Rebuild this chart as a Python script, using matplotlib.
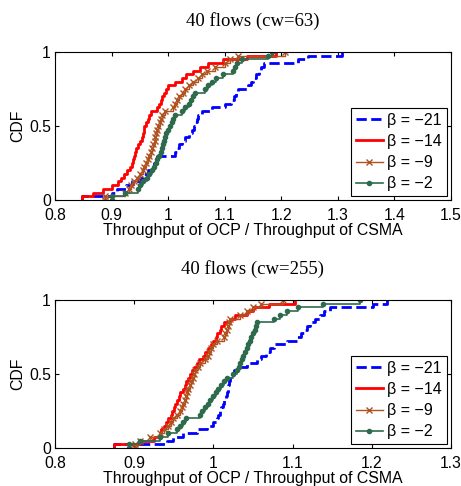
import numpy as np
import matplotlib
matplotlib.use('Agg')
import matplotlib.pyplot as plt
from matplotlib.ticker import FormatStrFormatter

plt.rcParams['font.family'] = ['Liberation Sans', 'DejaVu Sans']

# sorted per-flow throughput ratios (OCP / CSMA), 40 flows each
# cw = 63
top_b21 = [0.847, 0.900, 0.910, 0.925, 0.936, 0.950, 0.955, 0.965, 0.971, 0.975,
           0.978, 0.980, 1.012, 1.015, 1.020, 1.024, 1.030, 1.036, 1.042, 1.046,
           1.048, 1.051, 1.053, 1.060, 1.077, 1.100, 1.112, 1.116, 1.120, 1.124,
           1.142, 1.146, 1.150, 1.155, 1.160, 1.165, 1.170, 1.230, 1.248, 1.307]
top_b14 = [0.847, 0.868, 0.885, 0.900, 0.912, 0.916, 0.922, 0.928, 0.933, 0.936,
           0.938, 0.940, 0.942, 0.944, 0.947, 0.950, 0.953, 0.955, 0.957, 0.958,
           0.960, 0.964, 0.967, 0.969, 0.980, 0.984, 0.987, 0.990, 0.993, 0.996,
           1.000, 1.013, 1.024, 1.032, 1.044, 1.056, 1.070, 1.097, 1.140, 1.190]
top_b9 = [0.888, 0.924, 0.930, 0.935, 0.940, 0.945, 0.950, 0.955, 0.958, 0.961,
          0.964, 0.967, 0.970, 0.972, 0.974, 0.976, 0.977, 0.978, 0.980, 0.982,
          0.985, 0.988, 0.990, 0.995, 1.008, 1.012, 1.016, 1.020, 1.026, 1.030,
          1.036, 1.044, 1.052, 1.060, 1.068, 1.082, 1.100, 1.110, 1.124, 1.207]
top_b2 = [0.900, 0.924, 0.947, 0.950, 0.955, 0.962, 0.966, 0.971, 0.975, 0.978,
          0.980, 0.984, 0.987, 0.989, 0.991, 0.993, 0.995, 0.997, 1.000, 1.003,
          1.006, 1.009, 1.012, 1.024, 1.030, 1.036, 1.040, 1.044, 1.047, 1.065,
          1.070, 1.078, 1.085, 1.097, 1.115, 1.118, 1.122, 1.130, 1.177, 1.183]

# cw = 255
bot_b21 = [0.874, 0.941, 0.949, 0.962, 0.979, 0.992, 1.000, 1.004, 1.006, 1.008,
           1.010, 1.012, 1.014, 1.016, 1.017, 1.018, 1.019, 1.020, 1.021, 1.021,
           1.026, 1.030, 1.042, 1.055, 1.060, 1.067, 1.072, 1.076, 1.093, 1.105,
           1.110, 1.114, 1.118, 1.122, 1.128, 1.135, 1.140, 1.147, 1.202, 1.219]
bot_b14 = [0.874, 0.907, 0.925, 0.932, 0.934, 0.937, 0.940, 0.943, 0.946, 0.948,
           0.950, 0.952, 0.954, 0.956, 0.958, 0.962, 0.964, 0.966, 0.968, 0.970,
           0.973, 0.976, 0.979, 0.982, 0.987, 0.990, 0.993, 0.997, 1.000, 1.003,
           1.005, 1.008, 1.010, 1.013, 1.021, 1.027, 1.042, 1.050, 1.070, 1.103]
bot_b9 = [0.901, 0.907, 0.920, 0.933, 0.938, 0.943, 0.946, 0.949, 0.954, 0.958,
          0.960, 0.962, 0.964, 0.966, 0.967, 0.968, 0.970, 0.972, 0.974, 0.976,
          0.977, 0.980, 0.983, 0.990, 0.993, 0.995, 0.997, 1.000, 1.004, 1.013,
          1.015, 1.017, 1.019, 1.020, 1.021, 1.034, 1.042, 1.050, 1.060, 1.088]
bot_b2 = [0.893, 0.907, 0.933, 0.943, 0.954, 0.958, 0.962, 0.966, 0.983, 0.986,
          0.990, 0.993, 0.996, 1.000, 1.003, 1.006, 1.010, 1.014, 1.017, 1.025,
          1.030, 1.032, 1.034, 1.036, 1.038, 1.040, 1.042, 1.044, 1.046, 1.048,
          1.050, 1.052, 1.054, 1.055, 1.076, 1.084, 1.093, 1.107, 1.139, 1.185]

labels = [u'\u03b2 = \u221221', u'\u03b2 = \u221214', u'\u03b2 = \u22129', u'\u03b2 = \u22122']
titles = ['40 flows (cw=63)', '40 flows (cw=255)']
xlims = [(0.8, 1.5), (0.8, 1.3)]

styles = [dict(color='#0000ff', ls='--', lw=2.0),
          dict(color='#ff0000', ls='-', lw=2.0),
          dict(color='#b0521f', ls='-', lw=1.0, marker='x', ms=4.5, mew=1.0),
          dict(color='#2e6b4c', ls='-', lw=1.2, marker='.', ms=6)]


def cdfplot(ax, vals, **kw):
    x = np.sort(np.asarray(vals))
    n = len(x)
    xs = np.concatenate([[x[0]], x])
    ys = np.concatenate([[0.0], np.arange(1, n + 1) / n])
    return ax.step(xs, ys, where='post', **kw)[0]


fig = plt.figure(figsize=(4.61, 4.86), dpi=100)
ax1 = fig.add_axes([0.1193, 0.5885, 0.859, 0.3045])
ax2 = fig.add_axes([0.1193, 0.0782, 0.859, 0.3045])

for ax, series, ttl, xl in zip([ax1, ax2],
                               [[top_b21, top_b14, top_b9, top_b2],
                                [bot_b21, bot_b14, bot_b9, bot_b2]],
                               titles, xlims):
    hs = []
    for s, st in zip(series, styles):
        hs.append(cdfplot(ax, s, **st))
    ax.set_xlim(xl)
    ax.set_ylim(0, 1)
    ax.set_yticks([0, 0.5, 1])
    ax.yaxis.set_major_formatter(FormatStrFormatter('%g'))
    ax.xaxis.set_major_formatter(FormatStrFormatter('%g'))
    ax.tick_params(direction='in', top=True, right=True, labelsize=11.3, length=3)
    ax.tick_params(axis='x', pad=5.5)
    ax.tick_params(axis='y', pad=3)
    ax.set_ylabel('CDF', fontsize=11.4, labelpad=3)
    ax.set_xlabel('Throughput of OCP / Throughput of CSMA', fontsize=11.4, labelpad=0)
    ax.set_title(ttl, family=['Liberation Serif', 'DejaVu Serif'], fontsize=13.5, pad=19)
    leg = ax.legend(hs, labels, loc='lower right', fontsize=11.5, handlelength=1.75,
                    handletextpad=0.25, labelspacing=0.38, borderpad=0.3,
                    borderaxespad=0.25, fancybox=False, framealpha=1)
    leg.get_frame().set_edgecolor('black')
    leg.get_frame().set_linewidth(0.8)

fig.savefig('out.png', dpi=100)
